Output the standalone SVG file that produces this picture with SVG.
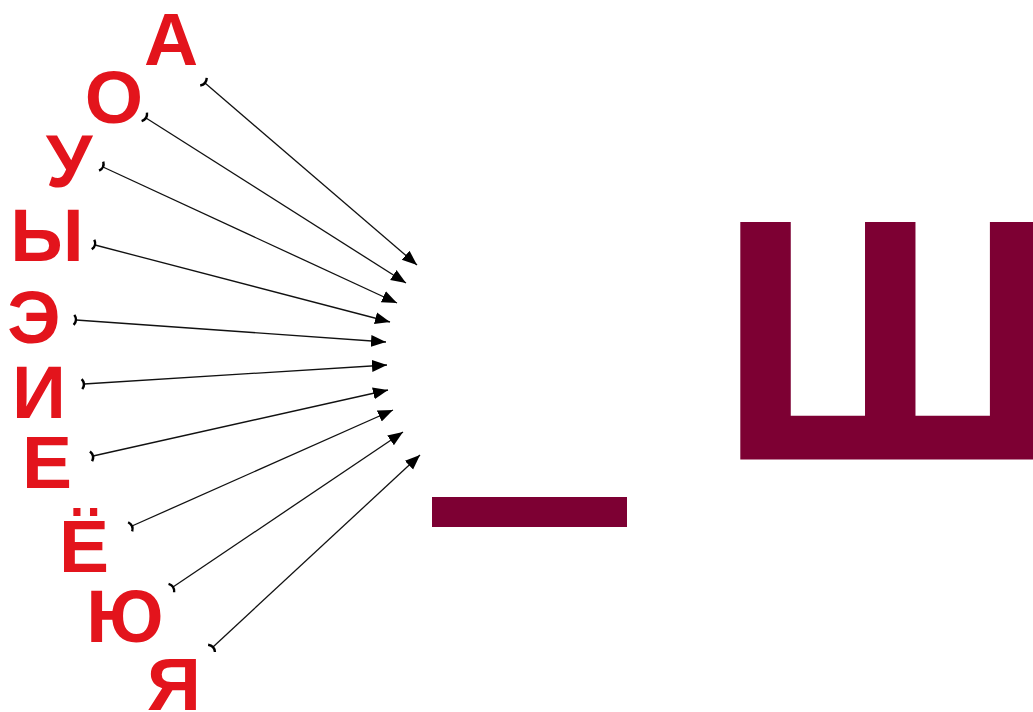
<svg xmlns="http://www.w3.org/2000/svg" width="1033" height="712" viewBox="0 0 1033 712">
<style>
.v{font-family:"Liberation Sans",Arial,sans-serif;font-weight:bold;font-size:75px;fill:#e3141c;text-anchor:middle}
.big{font-family:"Liberation Sans",Arial,sans-serif;font-weight:bold;font-size:341px;fill:#7d0033;stroke:#7d0033;stroke-width:3}
.c line{stroke:#111;stroke-width:1.3;marker-start:url(#tail);marker-end:url(#head)}
</style>
<defs>
<marker id="head" markerUnits="userSpaceOnUse" markerWidth="16" markerHeight="14" viewBox="0 0 16 14" refX="15" refY="7" orient="auto">
<path d="M0,1 L15,7 L0,13 Z" fill="#000"/>
</marker>
<marker id="tail" markerUnits="userSpaceOnUse" markerWidth="10" markerHeight="14" viewBox="-5 -7 10 14" refX="0" refY="0" orient="auto">
<path d="M-2,-5 Q2,0 -2,5" fill="none" stroke="#000" stroke-width="2.4"/>
</marker>
</defs>
<rect width="1033" height="712" fill="#fff"/>
<g id="vowels">
<g id="n-a"><text class="v" x="171" y="65">А</text></g>
<g id="n-o"><text class="v" x="114" y="123">О</text></g>
<g id="n-u"><text class="v" x="69" y="187">У</text></g>
<g id="n-y"><text class="v" x="47" y="261">Ы</text></g>
<g id="n-e2"><text class="v" x="34" y="343">Э</text></g>
<g id="n-i"><text class="v" x="39" y="418">И</text></g>
<g id="n-e"><text class="v" x="47" y="488">Е</text></g>
<g id="n-yo"><text class="v" x="84" y="572">Ё</text></g>
<g id="n-yu"><text class="v" x="125" y="642">Ю</text></g>
<g id="n-ya"><text class="v" x="174" y="710">Я</text></g>
</g>
<g id="target">
<rect id="n-dash" x="432" y="497" width="195" height="30" fill="#7d0033"/>
<g id="n-sha"><text class="big" x="719" y="458">Ш</text></g>
</g>
<g id="connectors" class="c">
<line x1="205" y1="83" x2="417" y2="265"/>
<line x1="146" y1="118" x2="406" y2="283"/>
<line x1="103" y1="167" x2="397" y2="303"/>
<line x1="95" y1="245" x2="390" y2="322"/>
<line x1="76" y1="320" x2="386" y2="342"/>
<line x1="84" y1="384" x2="387" y2="365"/>
<line x1="93" y1="456" x2="388" y2="390"/>
<line x1="132" y1="526" x2="393" y2="410"/>
<line x1="173" y1="587" x2="403" y2="432"/>
<line x1="213" y1="647" x2="420" y2="455"/>
</g>
</svg>
